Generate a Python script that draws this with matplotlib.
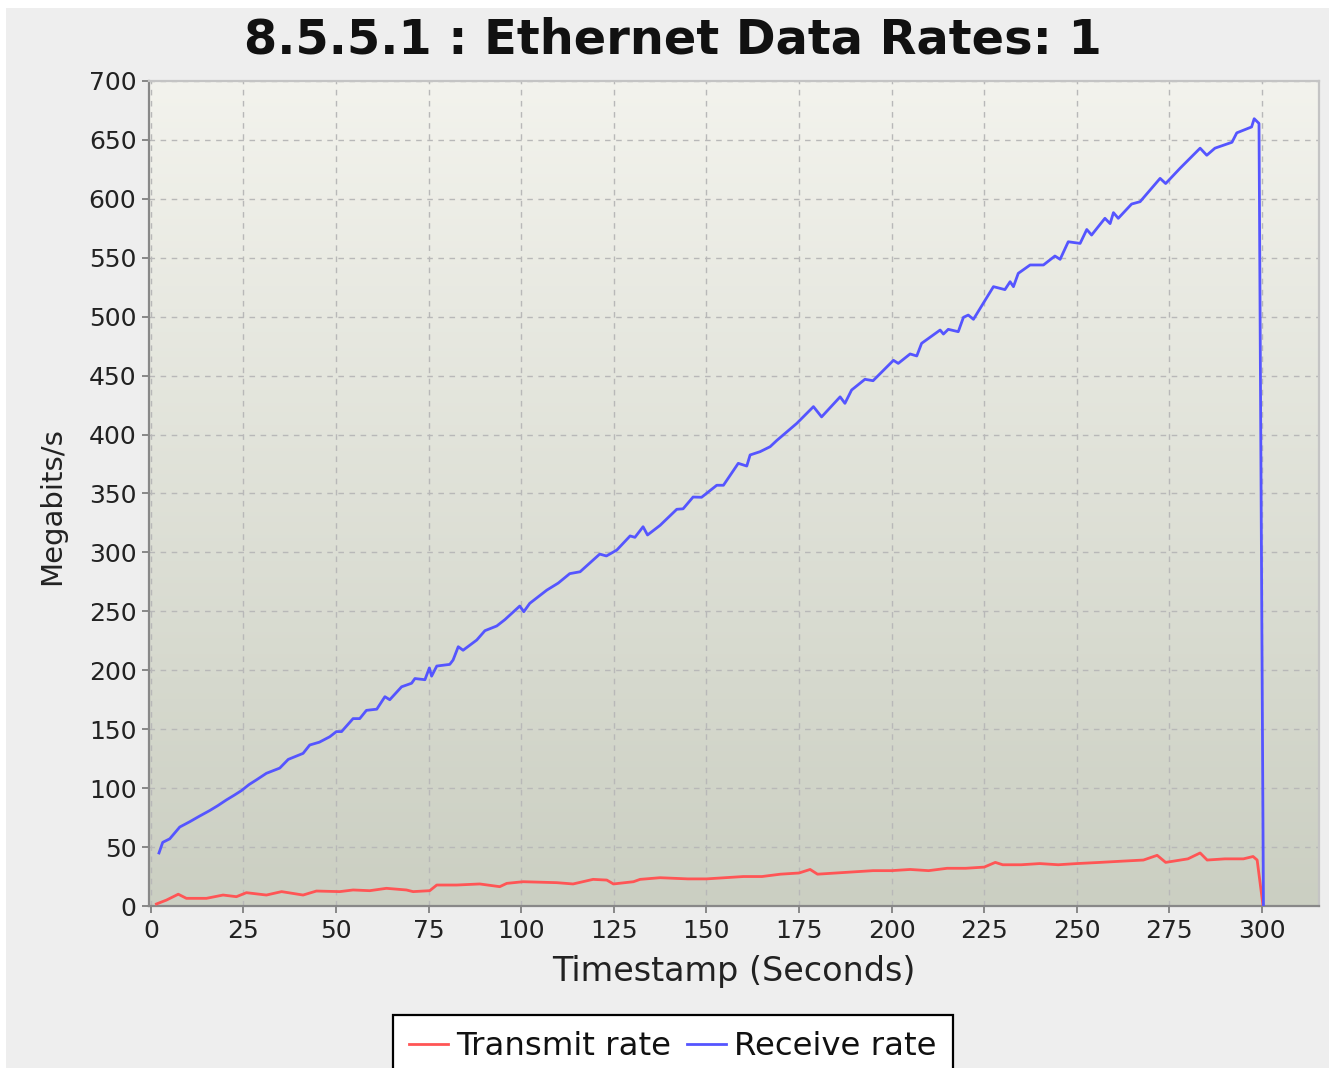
import numpy as np
import matplotlib
matplotlib.use("Agg")
import matplotlib.pyplot as plt
from matplotlib.lines import Line2D
from matplotlib.patches import Rectangle

# ---------------- data ----------------
title = "8.5.5.1 : Ethernet Data Rates: 1"
x_label = "Timestamp (Seconds)"
y_label = "Megabits/s"
series_names = ["Transmit rate", "Receive rate"]
x_ticks = [0, 25, 50, 75, 100, 125, 150, 175, 200, 225, 250, 275, 300]
y_ticks = [0, 50, 100, 150, 200, 250, 300, 350, 400, 450, 500, 550, 600, 650, 700]

rx_t = [2.2, 3.2, 5.1, 7.8, 10.5, 13, 15.9, 18, 20.4, 22.5, 24.5, 26.5, 28.5, 31.2, 34.8,
        37.1, 41.1, 42.9, 45.5, 48.3, 50.1, 51.5, 54.6, 56.4, 58.2, 61, 63.2, 64.5, 67.7,
        70.4, 71.3, 74, 75.2, 75.8, 77.2, 80.7, 81.6, 83, 84.3, 88, 90.2, 93.4, 95.6, 99.6,
        100.7, 102.3, 106.9, 110, 113.1, 115.9, 121.2, 123, 125.8, 129.4, 130.7, 132.9,
        134.1, 137.5, 142, 143.7, 146.4, 148.7, 152.8, 154.6, 158.6, 160.9, 161.8, 164.5,
        167.2, 169, 174.4, 178.9, 181.1, 186.1, 187.4, 189.2, 192.8, 195, 200.5, 201.8,
        205, 206.8, 208.1, 213.1, 214, 215.3, 218, 219.4, 220.7, 222.1, 227.5, 230.6, 232,
        232.9, 234.2, 237.4, 241, 244.1, 245.5, 247.7, 250.9, 252.7, 254, 257.6, 259, 259.9,
        261.2, 264.8, 267.1, 272.5, 274, 277.9, 283.3, 285.1, 287.3, 291.9, 293.2, 297.2,
        297.9, 299.2, 300.4]
rx_v = [45, 54, 57, 67, 71.5, 76, 81, 85, 90, 94, 98, 103, 107, 112.6, 117,
        124.4, 129.5, 136.6, 139, 143.6, 148, 148, 159, 159, 166, 167, 177.6, 175, 186,
        189, 193, 192, 202, 195, 203.6, 205, 208.7, 220, 217, 225.7, 233.6, 237.6, 243, 254.5,
        249.7, 256.8, 268, 274, 282, 283.6, 298.6, 297, 302, 314, 312.8, 321.8,
        314.8, 323, 336.6, 337, 347, 346.8, 357, 357, 375.6, 373.3, 382.7, 385.5,
        389.7, 395, 409.5, 423.7, 415, 432, 426.5, 437.8, 446.9, 445.7, 463, 460.4,
        468.4, 466.7, 477.4, 488.7, 485.3, 489.3, 487.3, 499.5, 501.4, 497.8, 525.5, 523, 529.7,
        525.5, 536.8, 543.9, 543.9, 551.5, 548.7, 563.6, 562.2, 574, 569.3, 583.5, 579, 588.3,
        583.5, 595.6, 597.6, 617.4, 613, 626, 643, 637, 643, 648, 656, 661,
        668, 664, 0]

tx_t = [1.5, 4.2, 7.4, 9.6, 15, 19.5, 23.1, 25.8, 31.2, 35.3, 41.1, 44.7, 51, 54.6, 59.1,
        63.6, 69, 70.8, 75.3, 77.2, 82.6, 88.8, 94.2, 96.1, 100.5, 109.6, 114, 119.4, 123.1,
        124.9, 130.3, 132.1, 137.5, 145, 150, 155, 160, 165, 170, 175, 178, 180, 185, 190,
        195, 200, 205, 210, 215, 220, 225, 228, 230, 235, 240, 245, 250, 256.3, 262, 268,
        271.7, 274, 280, 283.3, 285.2, 290, 295, 297.6, 298.7, 300.3]
tx_v = [1.7, 5, 10, 6.5, 6.5, 9.3, 7.9, 11.3, 9.3, 12.2, 9.3, 12.7, 12.2, 13.6, 13,
        15, 13.6, 12.2, 13, 17.8, 17.8, 18.7, 16.4, 19.2, 20.6, 19.8, 18.7, 22.6, 22,
        18.7, 20.6, 22.6, 24, 23, 23, 24, 25, 25, 27, 28, 31, 27, 28, 29,
        30, 30, 31, 30, 32, 32, 33, 37, 35, 35, 36, 35, 36, 37, 38, 39,
        43, 37, 40, 45, 39, 40, 40, 42, 39, 0]

# ---------------- figure ----------------
W, H = 1329, 1068
fig = plt.figure(figsize=(W / 100, H / 100), dpi=100)
fig.patch.set_facecolor("white")
fig.add_artist(Rectangle((6 / W, 0), 1 - 6 / W, 1 - 8 / H, transform=fig.transFigure,
                         facecolor="#EEEEEE", edgecolor="none", zorder=-10))

ax = fig.add_axes([149 / W, 162 / H, 1170 / W, 825 / H])
ax.set_facecolor("none")

# gradient background
top = np.array([243, 243, 237]) / 255
bot = np.array([203, 207, 194]) / 255
g = np.linspace(0, 1, 256)[:, None]
img = (top[None, :] * (1 - g) + bot[None, :] * g)[:, None, :]
ax.imshow(img, extent=[0, 1, 0, 1], transform=ax.transAxes, aspect="auto", zorder=-5)

ax.set_xlim(-0.5, 315.4)
ax.set_ylim(0, 700)
ax.set_xticks(x_ticks)
ax.set_yticks(y_ticks)

ax.grid(True, color="#B8B8B8", linestyle=(0, (4, 4)), linewidth=1.0)
ax.set_axisbelow(True)

ax.plot(tx_t, tx_v, color="#FF5555", linewidth=2.0, label=series_names[0], zorder=3)
ax.plot(rx_t, rx_v, color="#5555FF", linewidth=2.0, label=series_names[1], zorder=3)

for s in ["left", "bottom"]:
    ax.spines[s].set_color("#888888")
    ax.spines[s].set_linewidth(1.6)
for s in ["top", "right"]:
    ax.spines[s].set_color("#C4C4C4")
    ax.spines[s].set_linewidth(1.6)

ax.tick_params(axis="both", direction="out", length=5, width=1.4, color="#888888",
               labelsize=18, labelcolor="#222222", pad=4)

ax.set_xlabel(x_label, fontsize=24, color="#222222", labelpad=9)
ax.set_ylabel(y_label, fontsize=21, color="#222222")
ax.yaxis.set_label_coords(-0.071, 0.485)
fig.text(673 / W, 1 - 40 / H, title, ha="center", va="center",
         fontsize=34.5, fontweight="bold", color="#111111")

handles = [Line2D([], [], color="#FF5555", linewidth=2.0),
           Line2D([], [], color="#5555FF", linewidth=2.0)]
leg = fig.legend(handles, series_names, loc="upper center",
                 bbox_to_anchor=(673 / W, 1 - 1015 / H), ncol=2, fontsize=23.3,
                 frameon=True, fancybox=False, handlelength=1.2, handletextpad=0.25,
                 columnspacing=0.5, borderpad=0.5, borderaxespad=0)
leg.get_frame().set_edgecolor("black")
leg.get_frame().set_linewidth(1.6)
leg.get_frame().set_facecolor("white")
leg.get_frame().set_alpha(1.0)
for t in leg.get_texts():
    t.set_color("#111111")

fig.savefig("out.png", dpi=100)
